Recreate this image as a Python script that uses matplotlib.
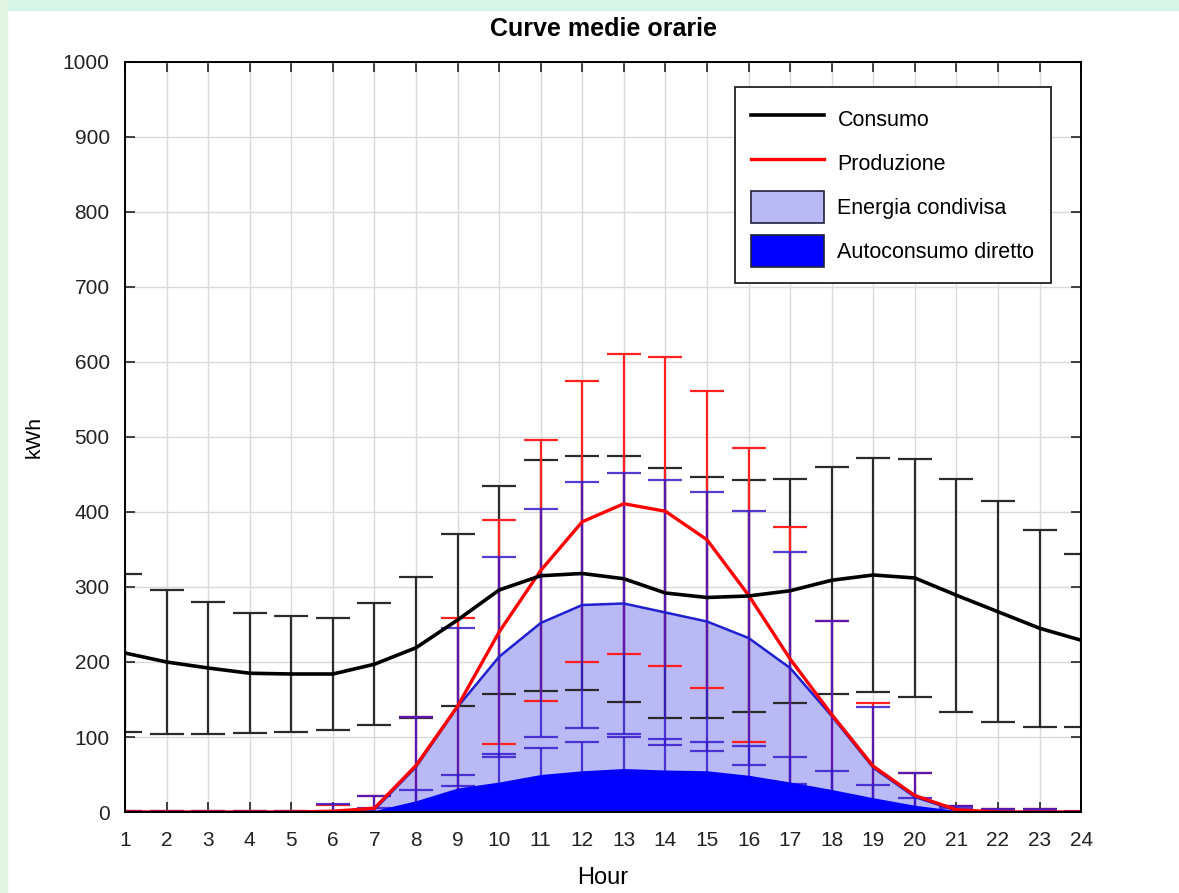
import matplotlib
matplotlib.use("Agg")
import matplotlib.pyplot as plt
import numpy as np
from matplotlib.patches import Patch, Rectangle
from matplotlib.lines import Line2D

plt.rcParams['font.family'] = ['Liberation Sans', 'DejaVu Sans']

### hourly averages (kWh) and their spread
hours = np.arange(1, 25)

consumo = [212, 200, 192, 185, 184, 184, 197, 219, 256, 296, 315, 318,
           311, 292, 286, 288, 295, 309, 316, 312, 289, 267, 245, 229]
consumo_sd = [105, 96, 88, 80, 77, 75, 81, 94, 115, 139, 154, 156,
              164, 167, 161, 155, 149, 151, 156, 159, 155, 147, 131, 115]

produzione = [0, 0, 0, 0, 0, 1, 5, 62, 141, 240, 322, 387,
              411, 401, 363, 289, 204, 130, 61, 22, 3, 0, 0, 0]
produzione_sd = [2, 2, 2, 2, 2, 8, 17, 65, 118, 149, 174, 187,
                 200, 206, 198, 196, 176, 125, 84, 30, 5, 4, 4, 0]

condivisa = [0, 0, 0, 0, 0, 1, 3, 60, 140, 207, 252, 276,
             278, 266, 254, 232, 192, 128, 59, 20, 2, 0, 0, 0]
condivisa_sd = [1, 1, 1, 1, 1, 10, 19, 67, 105, 133, 152, 164,
                174, 177, 173, 169, 155, 127, 81, 32, 6, 4, 4, 2]

autoconsumo = [0, 0, 0, 0, 0, 0, 2, 15, 32, 40, 50, 55,
               58, 56, 55, 49, 40, 30, 19, 9, 2, 0, 0, 0]
autoconsumo_sd = [0, 0, 0, 0, 0, 1, 3, 14, 17, 38, 35, 39,
                  42, 42, 39, 39, 34, 25, 17, 10, 3, 1, 1, 0]
###

fig = plt.figure(figsize=(11.79, 8.93), dpi=100)
# pale frame around the figure
fig.patches.append(Rectangle((0, 0.989), 1, 0.011, transform=fig.transFigure,
                             color='#d8f5ea', zorder=-10))
fig.patches.append(Rectangle((0, 0), 0.006, 1, transform=fig.transFigure,
                             color='#e2f4e2', zorder=-10))

ax = fig.add_axes([0.106, 0.0907, 0.811, 0.8399])

ax.fill_between(hours, condivisa, color='#b9b9f5', lw=0, zorder=2)
ax.fill_between(hours, autoconsumo, color='#0000ff', lw=0, zorder=6)

ekw = dict(fmt='none', capsize=12, elinewidth=1.6, capthick=1.6)
blu = (0.22, 0.1, 0.8, 0.85)
ax.errorbar(hours, consumo, yerr=consumo_sd, ecolor='#2b2b2b', zorder=3, **ekw)
ax.errorbar(hours, produzione, yerr=produzione_sd, ecolor='#ff2020', zorder=4, **ekw)
ax.errorbar(hours, condivisa, yerr=condivisa_sd, ecolor=blu, zorder=5, **ekw)
ax.errorbar(hours, autoconsumo, yerr=autoconsumo_sd, ecolor=blu, zorder=5, **ekw)

ax.plot(hours, condivisa, color='#2020d0', lw=1.8, zorder=7)
ax.plot(hours, produzione, color='#ff0000', lw=2.4, zorder=8)
ax.plot(hours, consumo, color='black', lw=2.6, zorder=9)

ax.set_xlim(1, 24)
ax.set_ylim(0, 1000)
ax.set_xticks(hours)
ax.set_yticks(np.arange(0, 1001, 100))
ax.grid(True, color='#dadada', lw=1)
ax.set_axisbelow(True)
ax.tick_params(direction='in', length=7, width=1.2, top=True, right=True,
               labelsize=15, colors='#222222')
ax.tick_params(axis='x', pad=14)
ax.tick_params(axis='y', pad=11)
for s in ax.spines.values():
    s.set_linewidth(1.4)
    s.set_zorder(12)

ax.set_title('Curve medie orarie', fontsize=18, fontweight='bold', pad=19)
ax.set_xlabel('Hour', fontsize=17, labelpad=12)
ax.set_ylabel('kWh', fontsize=15, labelpad=14)

handles = [
    Line2D([], [], color='black', lw=2.6),
    Line2D([], [], color='#ff0000', lw=2.4),
    Patch(facecolor='#b9b9f5', edgecolor='#202040', lw=1.2),
    Patch(facecolor='#0000ff', edgecolor='#202040', lw=1.2),
]
labels = ['Consumo', 'Produzione', 'Energia condivisa', 'Autoconsumo diretto']
leg = ax.legend(handles, labels, loc='upper right', bbox_to_anchor=(0.968, 0.966),
                borderaxespad=0, fontsize=15.5, fancybox=False, framealpha=1,
                edgecolor='#222222', handlelength=3.4, handleheight=1.9,
                labelspacing=0.55, handletextpad=0.6, borderpad=0.75)
leg.get_frame().set_linewidth(1.3)
leg.set_zorder(20)

fig.savefig('out.png', dpi=100, facecolor='white')
